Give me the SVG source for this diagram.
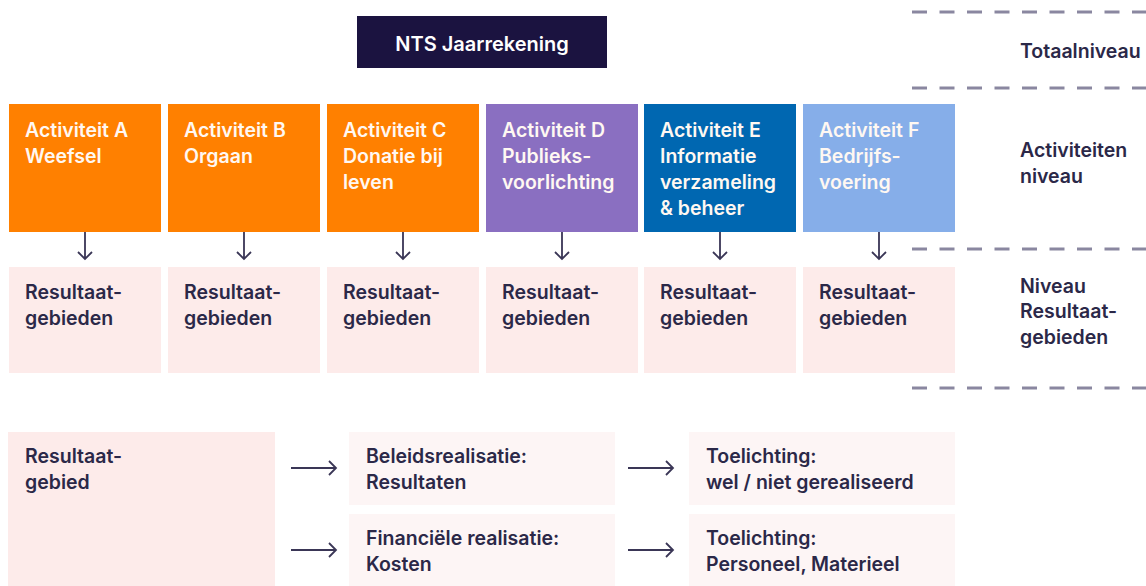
<svg xmlns="http://www.w3.org/2000/svg" width="1146" height="586" viewBox="0 0 1146 586">
<style>
text{font-family:Inter,"Liberation Sans",sans-serif;font-weight:600;font-size:19.5px}
.w{fill:#fff8f2}
.d{fill:#2b2848}
.pk{fill:#fdebea}
.lp{fill:#fdf5f5}
.dash{stroke:#8a87a0;stroke-width:3;stroke-dasharray:15 12.5;fill:none}
.arr{stroke:#3a3656;stroke-width:1.8;fill:none}
</style>
<rect width="1146" height="586" fill="#ffffff"/>
<g id="guides">
<line class="dash" x1="912" y1="12" x2="1146" y2="12"/>
<line class="dash" x1="912" y1="88" x2="1146" y2="88"/>
<line class="dash" x1="912" y1="249" x2="1146" y2="249"/>
<line class="dash" x1="912" y1="388" x2="1146" y2="388"/>
</g>
<g id="level-labels" class="d">
<text x="1020" y="58" class="d">Totaalniveau</text>
<text x="1020" y="157" class="d">Activiteiten</text>
<text x="1020" y="183" class="d">niveau</text>
<text x="1020" y="293" class="d">Niveau</text>
<text x="1020" y="318" class="d">Resultaat-</text>
<text x="1020" y="344" class="d">gebieden</text>
</g>
<g id="nts">
<rect x="357" y="16" width="250" height="52" fill="#1b1340"/>
<text x="482" y="51" text-anchor="middle" fill="#ffffff" style="font-size:20px">NTS Jaarrekening</text>
</g>
<g id="actA">
<rect x="9" y="104" width="152" height="128" fill="#ff8000"/>
<text class="w" x="25" y="137">Activiteit A</text>
<text class="w" x="25" y="163">Weefsel</text>
</g>
<g id="actB">
<rect x="168" y="104" width="152" height="128" fill="#ff8000"/>
<text class="w" x="184" y="137">Activiteit B</text>
<text class="w" x="184" y="163">Orgaan</text>
</g>
<g id="actC">
<rect x="327" y="104" width="152" height="128" fill="#ff8000"/>
<text class="w" x="343" y="137">Activiteit C</text>
<text class="w" x="343" y="163">Donatie bij</text>
<text class="w" x="343" y="189">leven</text>
</g>
<g id="actD">
<rect x="486" y="104" width="152" height="128" fill="#8a6fc1"/>
<text class="w" x="502" y="137">Activiteit D</text>
<text class="w" x="502" y="163">Publieks-</text>
<text class="w" x="502" y="189">voorlichting</text>
</g>
<g id="actE">
<rect x="644" y="104" width="152" height="128" fill="#0067b1"/>
<text class="w" x="660" y="137">Activiteit E</text>
<text class="w" x="660" y="163">Informatie</text>
<text class="w" x="660" y="189">verzameling</text>
<text class="w" x="660" y="215">&amp; beheer</text>
</g>
<g id="actF">
<rect x="803" y="104" width="152" height="128" fill="#86aee9"/>
<text class="w" x="819" y="137">Activiteit F</text>
<text class="w" x="819" y="163">Bedrijfs-</text>
<text class="w" x="819" y="189">voering</text>
</g>
<g id="resA"><rect class="pk" x="9" y="267" width="152" height="106"/><text class="d" x="25" y="299">Resultaat-</text><text class="d" x="25" y="325">gebieden</text></g>
<g id="resB"><rect class="pk" x="168" y="267" width="152" height="106"/><text class="d" x="184" y="299">Resultaat-</text><text class="d" x="184" y="325">gebieden</text></g>
<g id="resC"><rect class="pk" x="327" y="267" width="152" height="106"/><text class="d" x="343" y="299">Resultaat-</text><text class="d" x="343" y="325">gebieden</text></g>
<g id="resD"><rect class="pk" x="486" y="267" width="152" height="106"/><text class="d" x="502" y="299">Resultaat-</text><text class="d" x="502" y="325">gebieden</text></g>
<g id="resE"><rect class="pk" x="644" y="267" width="152" height="106"/><text class="d" x="660" y="299">Resultaat-</text><text class="d" x="660" y="325">gebieden</text></g>
<g id="resF"><rect class="pk" x="803" y="267" width="152" height="106"/><text class="d" x="819" y="299">Resultaat-</text><text class="d" x="819" y="325">gebieden</text></g>
<g id="resultaatgebied"><rect class="pk" x="8" y="432" width="267" height="154"/><text class="d" x="25" y="463">Resultaat-</text><text class="d" x="25" y="489">gebied</text></g>
<g id="beleid"><rect class="lp" x="349" y="432" width="266" height="73"/><text class="d" x="366" y="463">Beleidsrealisatie:</text><text class="d" x="366" y="489">Resultaten</text></g>
<g id="financieel"><rect class="lp" x="349" y="514" width="266" height="72"/><text class="d" x="366" y="545">Financiële realisatie:</text><text class="d" x="366" y="571">Kosten</text></g>
<g id="toel1"><rect class="lp" x="689" y="432" width="266" height="73"/><text class="d" x="706" y="463">Toelichting:</text><text class="d" x="706" y="489">wel / niet gerealiseerd</text></g>
<g id="toel2"><rect class="lp" x="689" y="514" width="266" height="72"/><text class="d" x="706" y="545">Toelichting:</text><text class="d" x="706" y="571">Personeel, Materieel</text></g>
<g id="connectors" class="arr">
<path d="M85 232V259M78 252L85 259L92 252"/>
<path d="M244 232V259M237 252L244 259L251 252"/>
<path d="M403 232V259M396 252L403 259L410 252"/>
<path d="M562 232V259M555 252L562 259L569 252"/>
<path d="M720 232V259M713 252L720 259L727 252"/>
<path d="M879 232V259M872 252L879 259L886 252"/>
<path d="M291 468H336M329 461L336 468L329 475"/>
<path d="M291 550H336M329 543L336 550L329 557"/>
<path d="M628 468H673M666 461L673 468L666 475"/>
<path d="M628 550H673M666 543L673 550L666 557"/>
</g>
</svg>
